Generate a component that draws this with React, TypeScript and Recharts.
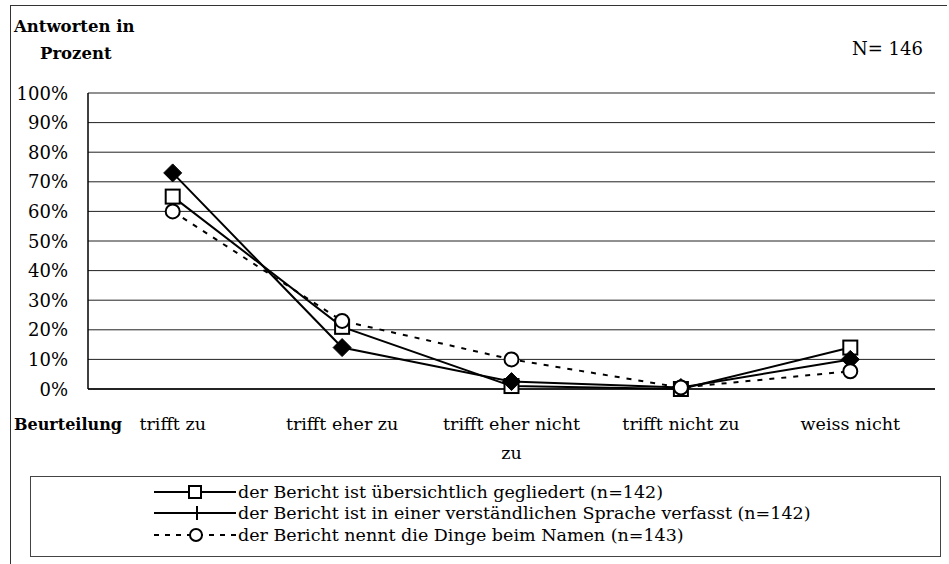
import React from 'react';
import { LineChart, Line, XAxis, YAxis, CartesianGrid, Legend } from 'recharts';

const categories = ['trifft zu', 'trifft eher zu', 'trifft eher nicht zu', 'trifft nicht zu', 'weiss nicht'];
const gegliedert = [65, 21, 1, 0, 14];
const sprache = [73, 14, 2.5, 0.5, 10];
const namen = [60, 23, 10, 0.5, 6];
const yTicks = [0, 10, 20, 30, 40, 50, 60, 70, 80, 90, 100];
const seriesNames = [
  'der Bericht ist übersichtlich gegliedert (n=142)',
  'der Bericht ist in einer verständlichen Sprache verfasst (n=142)',
  'der Bericht nennt die Dinge beim Namen (n=143)',
];

const data = categories.map((c, i) => ({
  cat: c,
  a: gegliedert[i],
  b: sprache[i],
  c: namen[i],
}));

const FONT = '"DejaVu Serif", serif';
const MAX_CHARS = 17;

function wrapWords(s: string): string[] {
  const words = s.split(' ');
  const lines: string[] = [];
  let cur = '';
  for (const w of words) {
    const next = cur ? cur + ' ' + w : w;
    if (next.length > MAX_CHARS && cur) {
      lines.push(cur);
      cur = w;
    } else {
      cur = next;
    }
  }
  if (cur) lines.push(cur);
  return lines;
}

const SquareDot = (p: any) => {
  const { cx, cy } = p;
  if (cx == null || cy == null) return null;
  return <rect x={cx - 7} y={cy - 7} width={14} height={14} fill="#fff" stroke="#000" strokeWidth={2} />;
};
const DiamondDot = (p: any) => {
  const { cx, cy } = p;
  if (cx == null || cy == null) return null;
  return <path d={`M${cx},${cy - 9} L${cx + 9},${cy} L${cx},${cy + 9} L${cx - 9},${cy} Z`} fill="#000" stroke="#000" strokeWidth={1} />;
};
const CircleDot = (p: any) => {
  const { cx, cy } = p;
  if (cx == null || cy == null) return null;
  return <circle cx={cx} cy={cy} r={7} fill="#fff" stroke="#000" strokeWidth={2} />;
};

const YTick = (p: any) => {
  const { y, payload } = p;
  return (
    <text x={68} y={y} textAnchor="end" dominantBaseline="central" fontFamily={FONT} fontSize={18} fill="#000">
      {payload.value}%
    </text>
  );
};

const XTick = (p: any) => {
  const { x, y, payload } = p;
  const lines = wrapWords(String(payload.value));
  return (
    <text x={x} y={y + 33} textAnchor="middle" fontFamily={FONT} fontSize={17.5} fill="#000">
      {lines.map((l, i) => (
        <tspan key={i} x={x} dy={i === 0 ? 0 : 29}>
          {l}
        </tspan>
      ))}
    </text>
  );
};

const LegendContent = () => {
  const icons = [
    <svg width={84} height={20} key="a">
      <line x1={1} y1={10} x2={83} y2={10} stroke="#000" strokeWidth={2} />
      <rect x={36} y={4} width={12} height={12} fill="#fff" stroke="#000" strokeWidth={2} />
    </svg>,
    <svg width={84} height={20} key="b">
      <line x1={1} y1={10} x2={83} y2={10} stroke="#000" strokeWidth={2} />
      <line x1={44} y1={3} x2={44} y2={17} stroke="#000" strokeWidth={2} />
    </svg>,
    <svg width={84} height={20} key="c">
      <line x1={1} y1={10} x2={83} y2={10} stroke="#000" strokeWidth={2} strokeDasharray="5 6" />
      <circle cx={43} cy={10} r={6} fill="#fff" stroke="#000" strokeWidth={2} />
    </svg>,
  ];
  return (
    <div
      style={{
        width: 911,
        height: 81,
        border: '1.5px solid #444',
        boxSizing: 'border-box',
        paddingTop: 4,
        paddingLeft: 122,
        fontFamily: FONT,
        fontSize: 17.5,
        color: '#000',
      }}
    >
      {seriesNames.map((n, i) => (
        <div key={n} style={{ display: 'flex', alignItems: 'center', height: 21.5 }}>
          {icons[i]}
          <span style={{ marginLeft: 1, whiteSpace: 'nowrap' }}>{n}</span>
        </div>
      ))}
    </div>
  );
};

export default function App() {
  return (
    <div style={{ position: 'absolute', left: 0, top: 0, width: 949, height: 564, background: '#fff', overflow: 'hidden' }}>
      <div style={{ position: 'absolute', left: 10, top: 5, width: 936, height: 570, borderTop: '1.5px solid #333', borderLeft: '1.5px solid #333' }} />
      <div style={{ position: 'absolute', left: 14, top: 13, fontFamily: FONT, fontWeight: 'bold', fontSize: 16.5, lineHeight: '27px' }}>
        Antworten in
        <br />
        <span style={{ marginLeft: 26 }}>Prozent</span>
      </div>
      <div style={{ position: 'absolute', left: 852, top: 38, fontFamily: FONT, fontSize: 18 }}>N= 146</div>
      <div style={{ position: 'absolute', left: 14, top: 415, fontFamily: FONT, fontWeight: 'bold', fontSize: 16 }}>Beurteilung</div>
      <LineChart width={949} height={564} data={data} margin={{ top: 93, right: 14, bottom: 115, left: 0 }} style={{ position: 'absolute', left: 0, top: 0 }}>
        <CartesianGrid vertical={false} stroke="#222" strokeWidth={1} />
        <XAxis dataKey="cat" scale="band" height={60} axisLine={{ stroke: '#000', strokeWidth: 1.5 }} tickLine={false} tick={<XTick />} interval={0} />
        <YAxis width={88} domain={[0, 100]} ticks={yTicks} axisLine={{ stroke: '#000', strokeWidth: 1.5 }} tickLine={false} tick={<YTick />} />
        <YAxis yAxisId="r" orientation="right" width={0} domain={[0, 100]} tick={false} axisLine={{ stroke: '#000', strokeWidth: 1.5 }} tickLine={false} />
        <Legend layout="horizontal" verticalAlign="middle" align="center" content={<LegendContent />} wrapperStyle={{ position: 'absolute', left: 30, top: 476, width: 911, height: 81 }} />
        <Line dataKey="a" name={seriesNames[0]} stroke="#000" strokeWidth={2} dot={<SquareDot />} isAnimationActive={false} />
        <Line dataKey="b" name={seriesNames[1]} stroke="#000" strokeWidth={2} dot={<DiamondDot />} isAnimationActive={false} />
        <Line dataKey="c" name={seriesNames[2]} stroke="#000" strokeWidth={2} strokeDasharray="5 7" dot={<CircleDot />} isAnimationActive={false} />
      </LineChart>
    </div>
  );
}
